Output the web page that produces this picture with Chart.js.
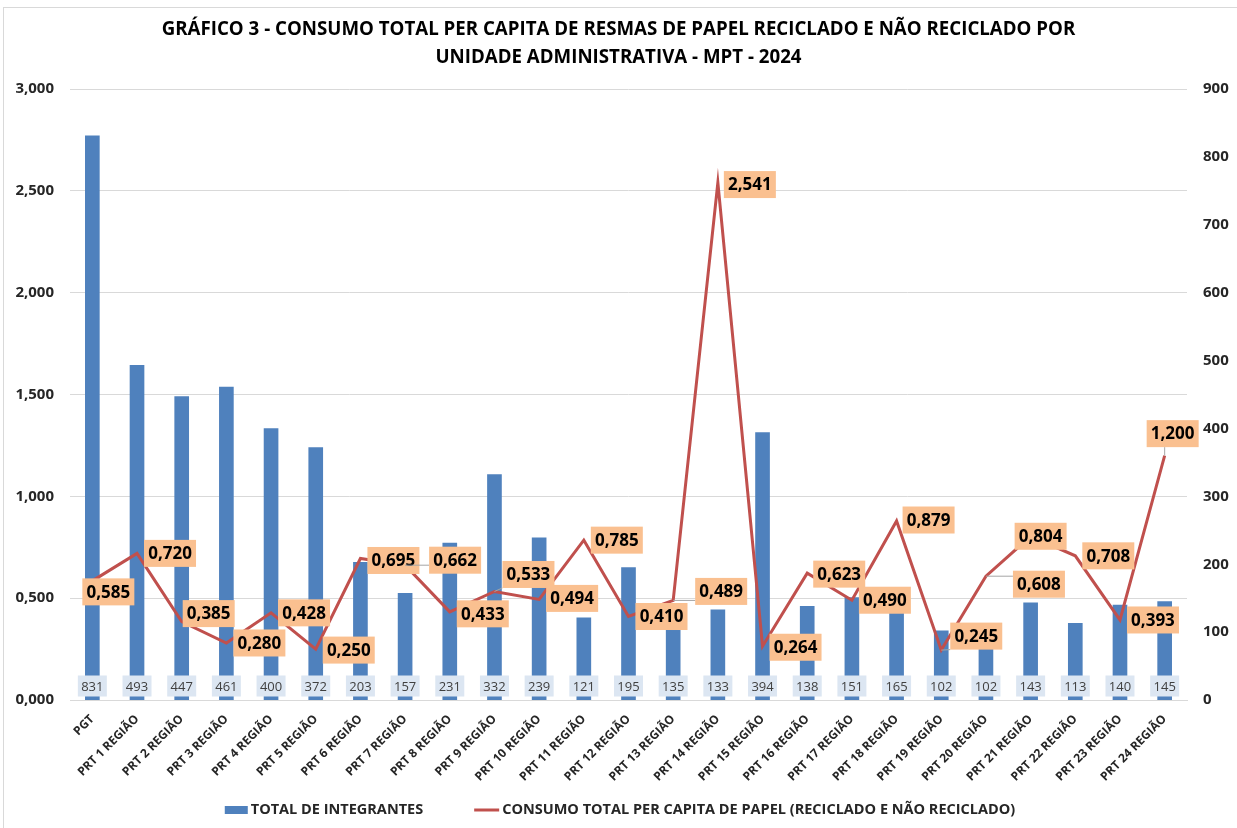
<!DOCTYPE html>
<html>
<head>
<meta charset="utf-8">
<script src="https://cdn.jsdelivr.net/npm/chart.js@4.4.1/dist/chart.umd.min.js"></script>
<style>
    html, body { margin: 0; padding: 0; background: #fff; }
    #wrap { position: relative; width: 1237px; height: 828px; overflow: hidden; }
    #moldura { position: absolute; left: 3px; top: 7px; width: 1250px; height: 840px; border: 1px solid #d9d9d9; }
    #grafico { position: absolute; left: 0; top: 0; }
</style>
</head>
<body>
<div id="wrap">
    <div id="moldura"></div>
    <canvas id="grafico" width="1237" height="828"></canvas>
</div>
<script>
// ===== Dados =====
const unidades = ['PGT', 'PRT 1 REGIÃO', 'PRT 2 REGIÃO', 'PRT 3 REGIÃO', 'PRT 4 REGIÃO', 'PRT 5 REGIÃO',
    'PRT 6 REGIÃO', 'PRT 7 REGIÃO', 'PRT 8 REGIÃO', 'PRT 9 REGIÃO', 'PRT 10 REGIÃO', 'PRT 11 REGIÃO',
    'PRT 12 REGIÃO', 'PRT 13 REGIÃO', 'PRT 14 REGIÃO', 'PRT 15 REGIÃO', 'PRT 16 REGIÃO', 'PRT 17 REGIÃO',
    'PRT 18 REGIÃO', 'PRT 19 REGIÃO', 'PRT 20 REGIÃO', 'PRT 21 REGIÃO', 'PRT 22 REGIÃO', 'PRT 23 REGIÃO',
    'PRT 24 REGIÃO'];
const integrantes = [831, 493, 447, 461, 400, 372, 203, 157, 231, 332, 239, 121, 195, 135, 133, 394,
    138, 151, 165, 102, 102, 143, 113, 140, 145];
const consumoPerCapita = [0.585, 0.720, 0.385, 0.280, 0.428, 0.250, 0.695, 0.662, 0.433, 0.533, 0.494,
    0.785, 0.410, 0.489, 2.541, 0.264, 0.623, 0.490, 0.879, 0.245, 0.608, 0.804, 0.708, 0.393, 1.200];
const ticksConsumo = [0, 0.5, 1, 1.5, 2, 2.5, 3];
const ticksIntegrantes = [0, 100, 200, 300, 400, 500, 600, 700, 800, 900];

const titulo = ['GRÁFICO 3 - CONSUMO TOTAL PER CAPITA DE RESMAS DE PAPEL RECICLADO E NÃO RECICLADO POR',
    'UNIDADE ADMINISTRATIVA - MPT - 2024'];
const legendaBarras = 'TOTAL DE INTEGRANTES';
const legendaLinha = 'CONSUMO TOTAL PER CAPITA DE PAPEL (RECICLADO E NÃO RECICLADO)';

// deslocamento dos rótulos da linha em relação ao ponto (px) e quais levam linha guia
const deslocRotulo = [[16, 11], [33, 0], [27, -8], [33, 0], [33, 0], [33, 1], [33, 2], [50, -5], [33, 2],
    [34, -17], [33, -1], [33, 0], [33, 0], [48, -9], [32, 2], [33, 1], [32, 1], [33, 0], [32, -1],
    [35, -14], [53, 8], [10, 0], [33, 0], [33, 0], [8, -22]];
const comGuia = [7, 9, 13, 19, 20, 24];

// ===== Estilo =====
const fonte = '"Open Sans", sans-serif';
const azul = '#4f81bd';
const vermelho = '#c0504d';

const formatoBR = v => v.toFixed(3).replace('.', ',');

const rotulosPlugin = {
    id: 'rotulos',
    afterDatasetsDraw(chart) {
        const ctx = chart.ctx;
        const barras = chart.getDatasetMeta(0).data;
        const pontos = chart.getDatasetMeta(1).data;
        const zeroY = chart.scales.y1.getPixelForValue(0);
        ctx.save();
        ctx.textAlign = 'center';
        ctx.textBaseline = 'middle';

        // rótulos das barras (caixas azul claro na base)
        ctx.font = '13px ' + fonte;
        barras.forEach((bar, i) => {
            const cy = zeroY - 14;
            ctx.fillStyle = '#dce6f2';
            ctx.fillRect(bar.x - 14.5, cy - 10.5, 29, 21);
            ctx.fillStyle = '#404040';
            ctx.fillText(String(integrantes[i]), bar.x, cy + 1);
        });

        // rótulos da linha (caixas laranja)
        ctx.font = 'bold 17px ' + fonte;
        pontos.forEach((pt, i) => {
            const [dx, dy] = deslocRotulo[i];
            const cx = pt.x + dx, cy = pt.y + dy;
            const w = 52, h = 27;
            if (comGuia.includes(i)) {
                const gx = Math.min(Math.max(pt.x, cx - w / 2), cx + w / 2);
                const gy = Math.min(Math.max(pt.y, cy - h / 2), cy + h / 2);
                ctx.strokeStyle = '#a6a6a6';
                ctx.lineWidth = 1;
                ctx.beginPath();
                ctx.moveTo(pt.x, pt.y);
                ctx.lineTo(gx, gy);
                ctx.stroke();
            }
            ctx.fillStyle = '#fac090';
            ctx.fillRect(cx - w / 2, cy - h / 2, w, h);
            ctx.fillStyle = '#000';
            ctx.fillText(formatoBR(consumoPerCapita[i]), cx, cy + 1);
        });
        ctx.restore();
    },
    afterDraw(chart) {
        // legenda
        const ctx = chart.ctx;
        ctx.save();
        ctx.font = 'bold 14.5px ' + fonte;
        ctx.textBaseline = 'middle';
        const w1 = ctx.measureText(legendaBarras).width;
        const w2 = ctx.measureText(legendaLinha).width;
        const total = 23 + 3 + w1 + 51 + 25 + 3 + w2;
        let x = 620 - total / 2;
        const y = 810;
        ctx.fillStyle = azul;
        ctx.fillRect(x, y - 4, 23, 8);
        x += 26;
        ctx.fillStyle = '#262626';
        ctx.fillText(legendaBarras, x, y);
        x += w1 + 51;
        ctx.strokeStyle = vermelho;
        ctx.lineWidth = 3;
        ctx.beginPath();
        ctx.moveTo(x, y);
        ctx.lineTo(x + 25, y);
        ctx.stroke();
        x += 28;
        ctx.fillText(legendaLinha, x, y);
        ctx.restore();
    }
};

new Chart(document.getElementById('grafico'), {
    type: 'bar',
    data: {
        labels: unidades,
        datasets: [{
            type: 'bar',
            label: legendaBarras,
            data: integrantes,
            yAxisID: 'y1',
            backgroundColor: azul,
            barThickness: 14,
            order: 1
        }, {
            type: 'line',
            label: legendaLinha,
            data: consumoPerCapita,
            yAxisID: 'y',
            borderColor: vermelho,
            borderWidth: 3,
            pointRadius: 0,
            tension: 0,
            fill: false,
            order: 0
        }]
    },
    options: {
        responsive: false,
        animation: false,
        layout: { padding: { left: 0, right: 0, top: 0, bottom: 33 } },
        plugins: {
            legend: { display: false },
            tooltip: { enabled: false },
            title: {
                display: true,
                text: titulo,
                color: '#000',
                font: { family: fonte, size: 18.7, weight: 'bold', lineHeight: 1.5 },
                padding: { top: 16, bottom: 17 }
            }
        },
        scales: {
            x: {
                grid: { display: false, drawTicks: false },
                border: { color: '#d9d9d9' },
                ticks: {
                    color: '#262626',
                    font: { family: fonte, size: 12, weight: 'bold' },
                    maxRotation: 45,
                    minRotation: 45,
                    autoSkip: false,
                    padding: 12
                },
                afterFit: s => { s.height = 95; }
            },
            y: {
                position: 'left',
                min: 0,
                max: 3,
                afterBuildTicks: s => { s.ticks = ticksConsumo.map(v => ({ value: v })); },
                ticks: {
                    color: '#262626',
                    font: { family: fonte, size: 15, weight: 'bold' },
                    padding: 16,
                    callback: v => formatoBR(v)
                },
                grid: { color: '#d9d9d9', drawTicks: false },
                border: { display: false },
                afterFit: s => { s.width = 70; }
            },
            y1: {
                position: 'right',
                min: 0,
                max: 900,
                afterBuildTicks: s => { s.ticks = ticksIntegrantes.map(v => ({ value: v })); },
                ticks: {
                    color: '#262626',
                    font: { family: fonte, size: 15, weight: 'bold' },
                    padding: 16
                },
                grid: { display: false, drawTicks: false },
                border: { display: false },
                afterFit: s => { s.width = 50; }
            }
        }
    },
    plugins: [rotulosPlugin]
});
</script>
</body>
</html>
